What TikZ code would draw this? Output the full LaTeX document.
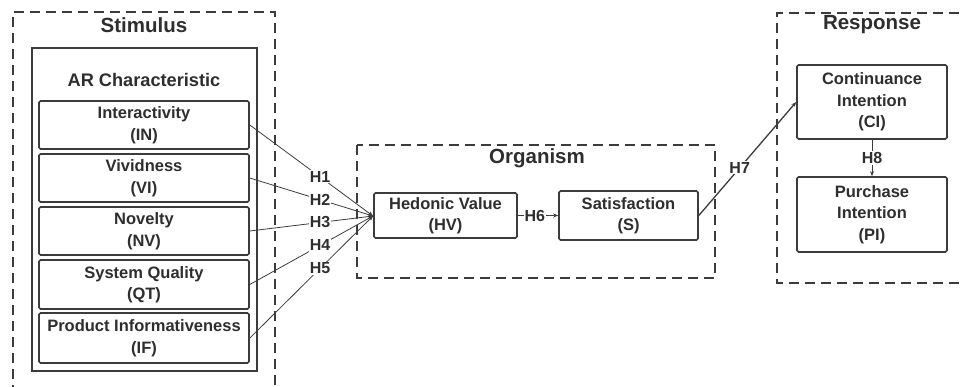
\documentclass[tikz,border=0pt]{standalone}
\usepackage{fontspec}
\setmainfont{Liberation Sans}
\usetikzlibrary{arrows.meta}
\definecolor{ink}{HTML}{2E2E2E}
\definecolor{edge}{HTML}{3C3C3C}
\begin{document}
\begin{tikzpicture}[x=1pt,y=-1pt,
  box/.style={draw=edge, line width=1.6pt, rounded corners=1.5pt, fill=white, align=center, inner sep=0pt,
     font=\fontsize{16.5}{21.5}\selectfont\bfseries, text=ink},
  dashbox/.style={draw=edge, line width=1.6pt, dash pattern=on 10pt off 6pt},
  title/.style={font=\fontsize{20.5}{24}\selectfont\bfseries, text=ink},
  lbl/.style={fill=white, inner sep=1pt, font=\fontsize{16}{18}\selectfont\bfseries, text=ink},
  conn/.style={draw=edge, line width=0.8pt, -{Stealth[length=5pt,width=4pt]}},
  conn2/.style={draw=edge, line width=1.3pt, -{Stealth[length=5pt,width=4pt]}}
]
\useasboundingbox (0,0) rectangle (965,386);
% Stimulus
\draw[dashbox] (13,395) -- (13,12) -- (275,12) -- (275,395);
\node[title] (stim) at (144,25) {Stimulus};
\node[draw=edge, line width=1.6pt, minimum width=225pt, minimum height=323pt, inner sep=0pt] (ar) at (144.5,209.5) {};
\node[title, font=\fontsize{18.2}{22}\selectfont\bfseries] (artitle) at (144,80) {AR Characteristic};
\node[box, minimum width=210pt, minimum height=48pt] (in) at (144,125) {Interactivity\\(IN)};
\node[box, minimum width=210pt, minimum height=48pt] (vi) at (144,178) {Vividness\\(VI)};
\node[box, minimum width=210pt, minimum height=48pt] (nv) at (144,231) {Novelty\\(NV)};
\node[box, minimum width=210pt, minimum height=49pt] (qt) at (144,284.5) {System Quality\\(QT)};
\node[box, minimum width=210pt, minimum height=50pt] (if) at (144,338) {Product Informativeness\\(IF)};
% Organism
\draw[dashbox] (357,145) rectangle (715,278);
\node[title] (org) at (537,158) {Organism};
\node[box, minimum width=143pt, minimum height=45pt] (hv) at (445.5,215.5) {Hedonic Value\\(HV)};
\node[box, minimum width=139pt, minimum height=49pt] (s) at (628.5,215.5) {Satisfaction\\(S)};
% Response
\draw[dashbox] (975,13) -- (777,13) -- (777,283) -- (975,283);
\node[title] (resp) at (872,25) {Response};
\node[box, minimum width=150pt, minimum height=74pt] (ci) at (872,102) {Continuance\\Intention\\(CI)};
\node[box, minimum width=150pt, minimum height=75pt] (pi) at (872,214.5) {Purchase\\Intention\\(PI)};
% connectors
\coordinate (hvin) at (373,216);
\draw[conn] (in.east) -- node[lbl, pos=0.57] {H1} (hvin);
\draw[conn] (vi.east) -- node[lbl, pos=0.57] {H2} (hvin);
\draw[conn] (nv.east) -- node[lbl, pos=0.57] {H3} (hvin);
\draw[conn] (qt.east) -- node[lbl, pos=0.57] {H4} (hvin);
\draw[conn] (if.east) -- node[lbl, pos=0.57] {H5} (hvin);
\draw[conn2] (hv.east) -- node[lbl, pos=0.42] {H6} (s.west);
\draw[conn2] (s.east) -- node[lbl, pos=0.42] {H7} (ci.west);
\draw[conn] (ci.south) -- node[lbl, pos=0.5] {H8} (pi.north);
\end{tikzpicture}
\end{document}
